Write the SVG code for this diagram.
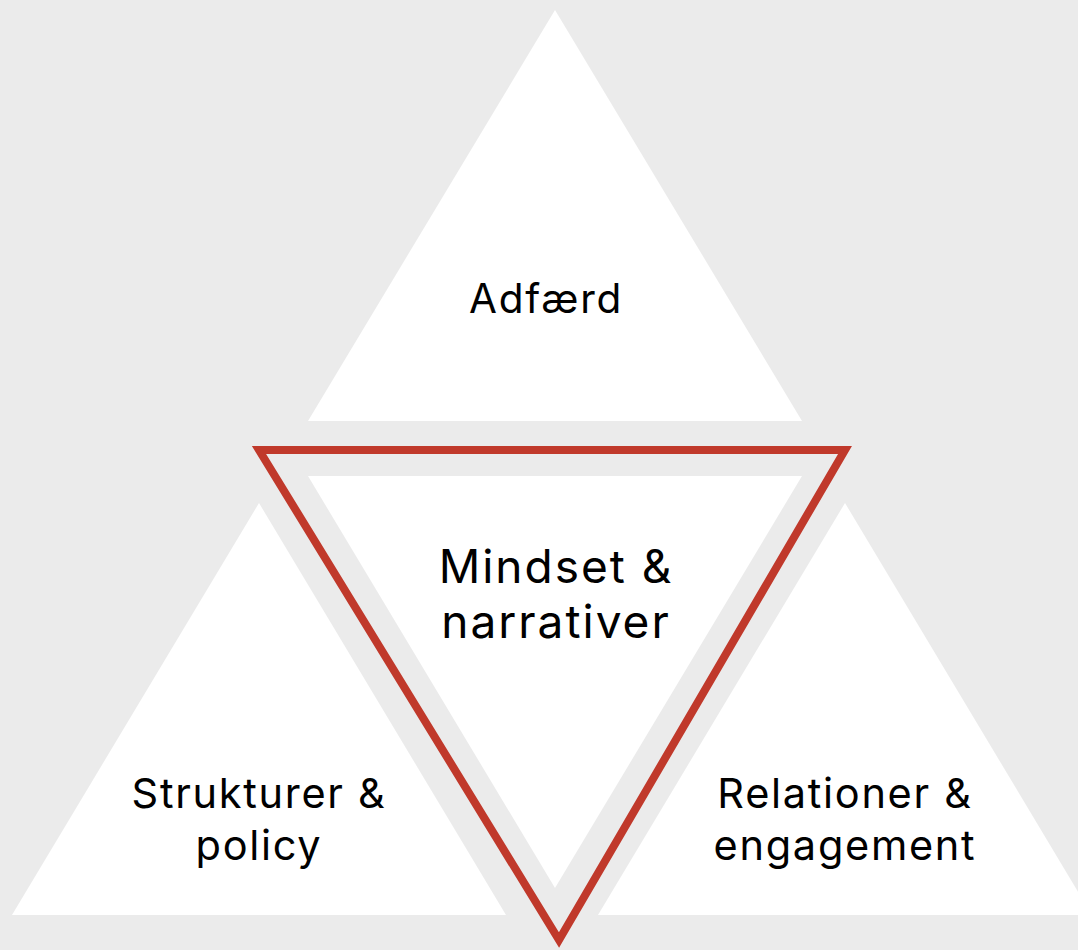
<svg xmlns="http://www.w3.org/2000/svg" width="1078" height="950" viewBox="0 0 1078 950">
<style>
.tri{fill:#ffffff;}
.lbl{font-family:Inter,"Open Sans","Liberation Sans",sans-serif;font-size:41.5px;fill:#000000;text-anchor:middle;letter-spacing:1.7px;}
.big{font-size:46px;letter-spacing:2px;}
.outline{fill:none;stroke:#c0392b;stroke-width:8;stroke-linejoin:miter;}
</style>
<rect x="0" y="0" width="1078" height="950" fill="#ebebeb"/>
<g id="adfaerd">
<polygon class="tri" points="555,10 802,421 308,421"/>
<text class="lbl" x="546" y="313" style="font-size:40.5px">Adfærd</text>
</g>
<g id="strukturer">
<polygon class="tri" points="259,503 506,915 12,915"/>
<text class="lbl" x="259" y="808">Strukturer &amp;</text>
<text class="lbl" x="259" y="860">policy</text>
</g>
<g id="relationer">
<polygon class="tri" points="845,503 1092,915 598,915"/>
<text class="lbl" x="845" y="808">Relationer &amp;</text>
<text class="lbl" x="845" y="860">engagement</text>
</g>
<g id="mindset">
<polygon class="tri" points="308,476 802,476 555,888"/>
<polygon class="outline" points="259,450 845,450 559,940"/>
<text class="lbl big" x="556" y="583">Mindset &amp;</text>
<text class="lbl big" x="556" y="638">narrativer</text>
</g>
</svg>
